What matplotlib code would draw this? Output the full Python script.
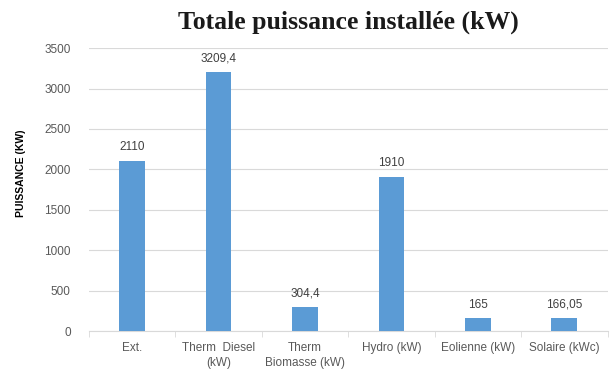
import numpy as np
import matplotlib
matplotlib.use('Agg')
import matplotlib.pyplot as plt

# data
categories = ['Ext.', 'Therm  Diesel\n(kW)', 'Therm\nBiomasse (kW)', 'Hydro (kW)',
              'Eolienne (kW)', 'Solaire (kWc)']
values = [2110, 3209.4, 304.4, 1910, 165, 166.05]
value_labels = ['2110', '3209,4', '304,4', '1910', '165', '166,05']
yticks = [0, 500, 1000, 1500, 2000, 2500, 3000, 3500]

plt.rcParams['font.family'] = ['Liberation Sans', 'DejaVu Sans']

fig = plt.figure(figsize=(6.12, 3.70), dpi=100)
ax = fig.add_axes([0.145, 0.105, 0.848, 0.765])

x = np.arange(len(categories))
ax.bar(x, values, width=0.30, color='#5B9BD5', zorder=3)

for xi, v, lab in zip(x, values, value_labels):
    ax.text(xi, v + 90, lab, ha='center', va='bottom', fontsize=8.5, color='#404040')

ax.set_xlim(-0.5, len(categories) - 0.5)
ax.set_ylim(0, 3500)
ax.set_yticks(yticks)
ax.set_yticklabels([str(t) for t in yticks], fontsize=8.5, color='#595959')
ax.set_xticks(x)
ax.set_xticklabels(categories, fontsize=8.5, color='#595959', linespacing=1.3)
ax.set_xticks(np.arange(len(categories) + 1) - 0.5, minor=True)
ax.tick_params(axis='x', which='major', length=0, pad=8)
ax.tick_params(axis='x', which='minor', length=4, color='#D9D9D9')
ax.tick_params(axis='y', length=0, pad=13)

ax.grid(axis='y', color='#D9D9D9', linewidth=0.8, zorder=0)
for s in ['top', 'right', 'left']:
    ax.spines[s].set_visible(False)
ax.spines['bottom'].set_color('#D9D9D9')

# y label sits a bit above the axis centre in the original
fig.text(21 / 612, 1 - 173 / 370, 'PUISSANCE (KW)', rotation=90, ha='center', va='center',
         fontsize=7.5, fontweight='bold', color='black',
         family=['Liberation Sans Narrow', 'Liberation Sans'])

fig.text(0.57, 0.94, 'Totale puissance installée (kW)', ha='center', va='center',
         fontsize=18.5, fontweight='bold', family=['Liberation Serif', 'DejaVu Serif'],
         color='#1a1a1a')

fig.savefig('out.png', dpi=100)
